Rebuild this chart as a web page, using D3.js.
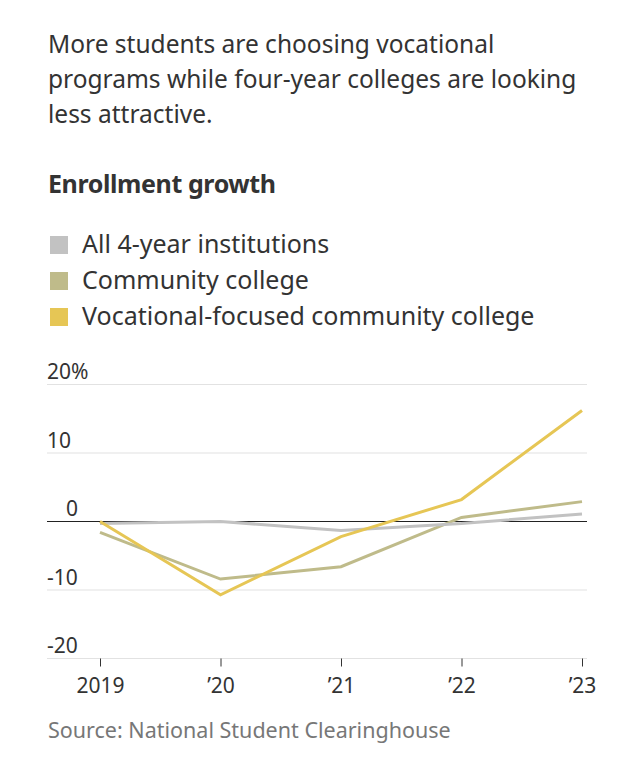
<!DOCTYPE html>
<html><head><meta charset="utf-8">
<script src="https://cdn.jsdelivr.net/npm/d3@7"></script>
<style>
html,body{margin:0;padding:0;background:#fff;}
svg text{font-family:"Noto Sans",sans-serif;}
</style></head>
<body><svg id="c" width="634" height="780"></svg>
<script>
const years = ["2019", "’20", "’21", "’22", "’23"];
const seriesNames = ["All 4-year institutions", "Community college", "Vocational-focused community college"];
const allFourYear = [-0.3, 0, -1.3, -0.3, 1.1];
const communityCollege = [-1.6, -8.4, -6.6, 0.6, 2.9];
const vocationalCC = [0, -10.7, -2.2, 3.2, 16.2];
const colors = ["#c2c2c2", "#bfbb8a", "#e6c655"];
const yTicks = [20, 10, 0, -10, -20];
const titleLines = ["More students are choosing vocational", "programs while four-year colleges are looking", "less attractive."];

const series = [allFourYear, communityCollege, vocationalCC];
const svg = d3.select("#c");

svg.selectAll("text.title").data(titleLines).enter().append("text")
  .attr("x", 48).attr("y", (d,i)=>53 + i*35)
  .attr("font-size", 24.5).attr("fill", "#333").text(d=>d);

svg.append("text").attr("x", 48).attr("y", 193).attr("font-size", 25)
  .attr("font-weight", "bold").attr("fill", "#333").attr("letter-spacing", -0.4).text("Enrollment growth");

const leg = svg.selectAll("g.leg").data(seriesNames).enter().append("g")
  .attr("transform", (d,i)=>`translate(50,${236 + i*36})`);
leg.append("rect").attr("width", 18).attr("height", 18).attr("fill", (d,i)=>colors[i]);
leg.append("text").attr("x", 32).attr("y", 16.5).attr("font-size", 25).attr("fill", "#333").text(d=>d);

const x = d3.scalePoint().domain(years).range([100, 582]);
const y = d3.scaleLinear().domain([-20, 20]).range([658.5, 384.5]);

const grid = svg.append("g");
grid.selectAll("line").data(yTicks.filter(d=>d!==0)).enter().append("line")
  .attr("x1", 47).attr("x2", 587).attr("y1", d=>y(d)).attr("y2", d=>y(d))
  .attr("stroke", "#e2e2e2").attr("stroke-width", 1.2);
grid.selectAll("text").data(yTicks).enter().append("text")
  .attr("x", d => d===0 ? 72 : 47).attr("y", d=>y(d)-5.5)
  .attr("text-anchor", d => d===0 ? "middle" : "start")
  .attr("font-size", 21).attr("fill", "#333").text(d => d===20 ? "20%" : d);

const xAxis = svg.append("g").attr("transform", `translate(0,${y(-20)})`)
  .call(d3.axisBottom(x).tickSize(8).tickPadding(12));
xAxis.select(".domain").remove();
xAxis.selectAll(".tick line").attr("stroke", "#333");
xAxis.selectAll(".tick text").attr("font-size", 21).attr("fill", "#333")
  .attr("font-family", "'Noto Sans', sans-serif");

const line = d3.line().x((d,i)=>x(years[i])).y(d=>y(d));
svg.append("line").attr("x1", 47).attr("x2", 587).attr("y1", y(0)).attr("y2", y(0))
  .attr("stroke", "#222").attr("stroke-width", 1.2);
const order = [1, 0, 2];
svg.selectAll("path.s").data(order).enter().append("path")
  .attr("d", i=>line(series[i])).attr("fill", "none")
  .attr("stroke", i=>colors[i]).attr("stroke-width", 3).attr("stroke-linejoin", "miter");

svg.append("text").attr("x", 48).attr("y", 738).attr("font-size", 21.5)
  .attr("fill", "#777").text("Source: National Student Clearinghouse");
</script></body></html>
